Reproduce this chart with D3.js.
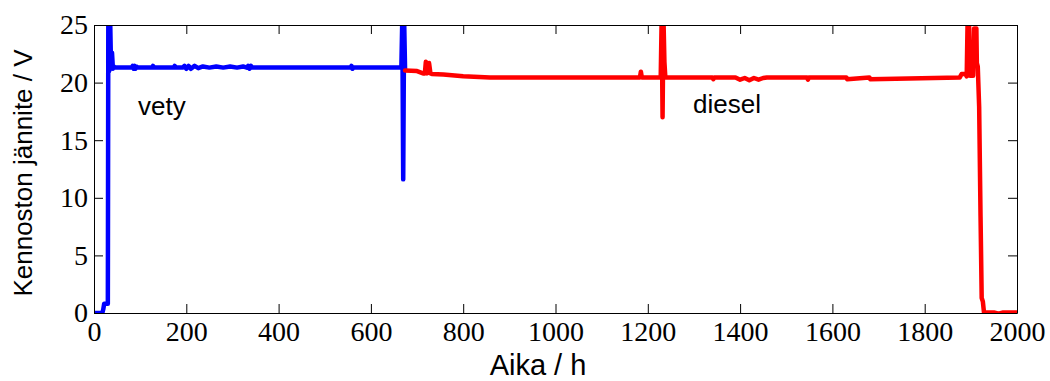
<!DOCTYPE html>
<html>
<head>
<meta charset="utf-8">
<script src="https://cdn.jsdelivr.net/npm/d3@7"></script>
<style>
  body { margin: 0; background: #fff; }
  svg { display: block; }
</style>
</head>
<body>
<div id="chart"></div>
<script>
// Cell voltage over time (hours, volts)
const vetyTime = [0, 18, 20, 22, 30, 31, 33, 35, 37, 39, 41, 43, 46, 82, 84, 86, 88, 90, 92, 95, 126, 128, 130,
  173, 175, 177, 192, 196, 200, 205, 210, 218, 226, 236, 250, 265, 280, 295, 310, 323, 331, 334, 337, 340, 343,
  556, 558, 560, 562, 666, 668, 670, 672, 674];
const vetyVolt = [0, 0, 0.3, 0.8, 0.8, 25.5, 21.0, 25.5, 21.2, 22.6, 21.2, 21.4, 21.3, 21.3, 21.45, 21.2, 21.45, 21.2, 21.4, 21.3, 21.3, 21.45, 21.3,
  21.3, 21.45, 21.3, 21.3, 21.45, 21.2, 21.45, 21.2, 21.45, 21.25, 21.4, 21.3, 21.4, 21.3, 21.4, 21.3, 21.4, 21.3, 21.45, 21.2, 21.45, 21.3,
  21.3, 21.45, 21.2, 21.3, 21.3, 25.5, 11.6, 25.5, 21.2];

const dieselTime = [674, 700, 713, 717, 719, 722, 726, 729, 732, 757, 800, 858, 1183, 1185, 1187, 1228, 1230, 1232, 1234, 1236, 1238,
  1340, 1342, 1344, 1390, 1400, 1410, 1420, 1430, 1440, 1450, 1458, 1545, 1547, 1549, 1630, 1632, 1680, 1682,
  1876, 1880, 1888, 1891, 1893, 1896, 1898, 1905, 1907, 1912, 1913, 1915, 1918, 1921, 1923.5, 1926, 1928.5, 1950, 1960, 1970, 2000];
const dieselVolt = [21.05, 21.0, 20.8, 20.8, 21.8, 20.8, 21.7, 20.8, 20.75, 20.7, 20.55, 20.45, 20.45, 20.95, 20.45, 20.45, 25.5, 17.0, 25.5, 21.8, 20.45,
  20.45, 20.3, 20.45, 20.45, 20.25, 20.4, 20.2, 20.4, 20.25, 20.4, 20.45, 20.45, 20.25, 20.45, 20.45, 20.3, 20.45, 20.3,
  20.45, 20.75, 20.75, 20.55, 25.5, 25.5, 20.6, 20.6, 24.7, 24.7, 21.7, 21.4, 17.9, 8.4, 1.3, 1.0, 0.05, 0.05, -0.05, 0.05, 0.05];

const xTicks = d3.range(0, 2001, 200);
const yTicks = [0, 5, 10, 15, 20, 25];

const W = 1050, H = 381;
const plot = { left: 94, right: 1017, top: 25, bottom: 313 };

const svg = d3.select("#chart").append("svg")
  .attr("width", W)
  .attr("height", H);

const x = d3.scaleLinear().domain([0, 2000]).range([plot.left, plot.right]);
const y = d3.scaleLinear().domain([0, 25]).range([plot.bottom, plot.top]);

// clip lines to the axes box like the original
svg.append("clipPath").attr("id", "clip")
  .append("rect")
  .attr("x", plot.left).attr("y", plot.top)
  .attr("width", plot.right - plot.left)
  .attr("height", plot.bottom - plot.top);

const line = d3.line().x(d => x(d[0])).y(d => y(d[1]));

const series = [
  { name: "vety", color: "#0000ff", pts: d3.zip(vetyTime, vetyVolt) },
  { name: "diesel", color: "#ff0000", pts: d3.zip(dieselTime, dieselVolt) }
];

svg.append("g").attr("clip-path", "url(#clip)")
  .selectAll("path")
  .data(series)
  .enter()
  .append("path")
  .attr("d", d => line(d.pts))
  .attr("fill", "none")
  .attr("stroke", d => d.color)
  .attr("stroke-width", 4.5)
  .attr("stroke-linejoin", "round")
  .attr("stroke-linecap", "round");

// axes: ticks pointing inward on all four sides
const tickLen = 9;
const serif = "'Liberation Serif', 'DejaVu Serif', Times, serif";
const sans = "'Liberation Sans', Arial, sans-serif";
const fmt = d3.format("d");

const axB = svg.append("g")
  .attr("transform", `translate(0,${plot.bottom})`)
  .call(d3.axisBottom(x).tickValues(xTicks).tickFormat(fmt).tickSizeInner(-tickLen).tickSizeOuter(0).tickPadding(8));
const axT = svg.append("g")
  .attr("transform", `translate(0,${plot.top})`)
  .call(d3.axisTop(x).tickValues(xTicks).tickSizeInner(-tickLen).tickSizeOuter(0).tickFormat(""));
const axL = svg.append("g")
  .attr("transform", `translate(${plot.left},0)`)
  .call(d3.axisLeft(y).tickValues(yTicks).tickFormat(fmt).tickSizeInner(-tickLen).tickSizeOuter(0).tickPadding(6));
const axR = svg.append("g")
  .attr("transform", `translate(${plot.right},0)`)
  .call(d3.axisRight(y).tickValues(yTicks).tickSizeInner(-tickLen).tickSizeOuter(0).tickFormat(""));

[axB, axT, axL, axR].forEach(a => {
  a.attr("font-family", null).attr("font-size", null);
  a.select(".domain").attr("stroke", "#000").attr("stroke-width", 1);
  a.selectAll(".tick line").attr("stroke", "#000").attr("stroke-width", 1);
  a.selectAll(".tick text")
    .attr("fill", "#000")
    .style("font-family", serif)
    .style("font-size", "28px");
});

// series annotations
svg.append("text")
  .attr("x", 138).attr("y", 115)
  .style("font-family", sans).style("font-size", "26px")
  .text("vety");
svg.append("text")
  .attr("x", 693).attr("y", 113)
  .style("font-family", sans).style("font-size", "26px")
  .text("diesel");

// axis labels
svg.append("text")
  .attr("x", 538).attr("y", 375)
  .attr("text-anchor", "middle")
  .style("font-family", sans).style("font-size", "29px")
  .text("Aika / h");

svg.append("text")
  .attr("transform", `translate(32,${(plot.top + plot.bottom) / 2 + 4}) rotate(-90)`)
  .attr("text-anchor", "middle")
  .style("font-family", sans).style("font-size", "26px")
  .text("Kennoston jännite / V");
</script>
</body>
</html>
